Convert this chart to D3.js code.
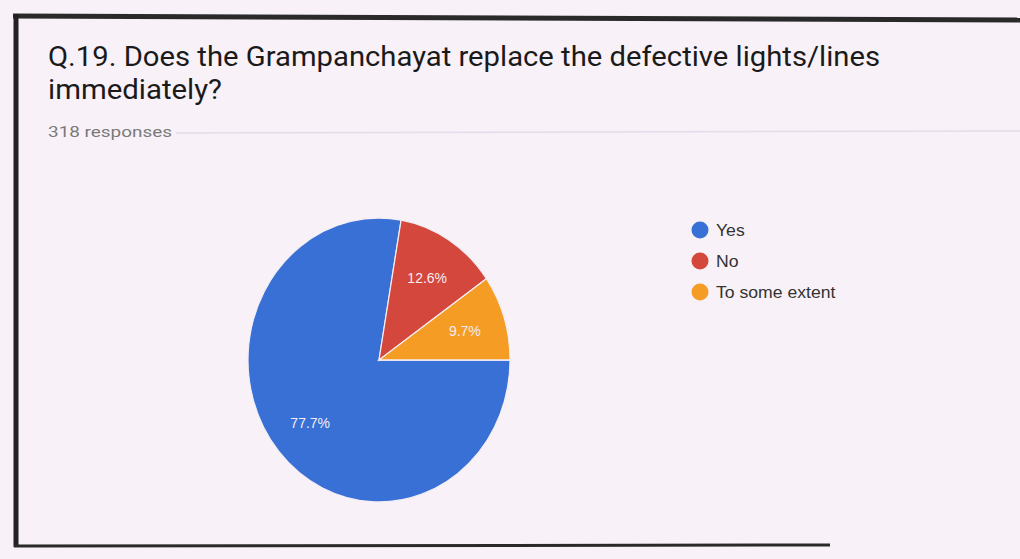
<!DOCTYPE html>
<html>
<head>
<meta charset="utf-8">
<script src="https://cdn.jsdelivr.net/npm/d3@7"></script>
<style>
  html, body { margin: 0; padding: 0; background: #f8f1f8; }
  svg { display: block; }
</style>
</head>
<body>
<svg id="chart" width="1020" height="559"></svg>
<script>
// ---- data ----
const categories = ["Yes", "No", "To some extent"];
const values = [77.7, 12.6, 9.7];
const labels = ["77.7%", "12.6%", "9.7%"];
const colors = ["#3870d6", "#d3473c", "#f59c25"];
const titleLines = ["Q.19. Does the Grampanchayat replace the defective lights/lines", "immediately?"];
const subtitle = "318 responses";

const svg = d3.select("#chart");
const W = 1020, H = 559;

svg.append("rect").attr("width", W).attr("height", H).attr("fill", "#f8f1f8");

// scanned page frame
svg.append("line").attr("x1", 13).attr("y1", 16).attr("x2", 1020).attr("y2", 20)
  .attr("stroke", "#2a2a2a").attr("stroke-width", 5);
svg.append("line").attr("x1", 16).attr("y1", 14).attr("x2", 16).attr("y2", 547)
  .attr("stroke", "#222").attr("stroke-width", 5);
svg.append("line").attr("x1", 14).attr("y1", 546).attr("x2", 830).attr("y2", 545)
  .attr("stroke", "#2a2a2a").attr("stroke-width", 3);

// title
const titleWidths = [832, 174];
titleLines.forEach((t, i) => {
  svg.append("text")
    .attr("x", 48).attr("y", 66 + i * 33)
    .attr("font-family", "Roboto, 'Noto Sans', sans-serif")
    .attr("font-size", 28)
    .attr("font-weight", 400)
    .attr("fill", "#1a1a1a")
    .attr("textLength", titleWidths[i])
    .attr("lengthAdjust", "spacingAndGlyphs")
    .text(t);
});
svg.append("text")
  .attr("x", 48).attr("y", 137)
  .attr("font-family", "Roboto, 'Noto Sans', sans-serif")
  .attr("font-size", 15)
  .attr("fill", "#7a7a7a")
  .attr("textLength", 124)
  .attr("lengthAdjust", "spacingAndGlyphs")
  .text(subtitle);
svg.append("line").attr("x1", 176).attr("y1", 133).attr("x2", 1020).attr("y2", 131)
  .attr("stroke", "#e4dce8").attr("stroke-width", 1.5);

// pie (slightly elliptical as in the scan)
const cx = 379, cy = 360, rx = 131, ry = 142;
const pie = d3.pie().sort(null).value(d => d)
  .startAngle(Math.PI / 2).endAngle(Math.PI / 2 + 2 * Math.PI);
const arcs = pie(values);
const arc = d3.arc().innerRadius(0).outerRadius(rx);
const labelArc = d3.arc().innerRadius(90).outerRadius(90);

const g = svg.append("g").attr("transform", `translate(${cx},${cy}) scale(1,${ry / rx})`);
g.selectAll("path.slice").data(arcs).enter().append("path")
  .attr("class", "slice")
  .attr("d", arc)
  .attr("fill", (d, i) => colors[i])
  .attr("stroke", "#f4eef4")
  .attr("stroke-width", 1.2);

const lg = svg.append("g").attr("transform", `translate(${cx},${cy})`);
lg.selectAll("text").data(arcs).enter().append("text")
  .attr("x", d => labelArc.centroid(d)[0])
  .attr("y", d => labelArc.centroid(d)[1] * ry / rx + 5)
  .attr("text-anchor", "middle")
  .attr("font-family", "'Liberation Sans', Arial, sans-serif")
  .attr("font-size", 14)
  .attr("fill", "#f3ecf0")
  .text((d, i) => labels[i]);

// legend
const legend = svg.append("g").attr("transform", "translate(700,230)");
const items = legend.selectAll("g").data(categories).enter().append("g")
  .attr("transform", (d, i) => `translate(0,${i * 31})`);
items.append("circle").attr("r", 8.5).attr("fill", (d, i) => colors[i]);
items.append("text")
  .attr("x", 16).attr("y", 6)
  .attr("font-family", "'Liberation Sans', Arial, sans-serif")
  .attr("font-size", 16)
  .attr("fill", "#333")
  .text(d => d)
  .each(function () {
    const len = this.getComputedTextLength();
    d3.select(this).attr("textLength", len * 1.1).attr("lengthAdjust", "spacingAndGlyphs");
  });
</script>
</body>
</html>
